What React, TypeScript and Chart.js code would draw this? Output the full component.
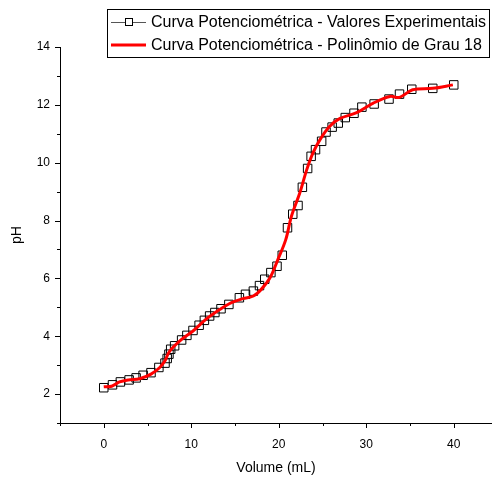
import React, { useEffect, useRef } from 'react';
import { Chart, registerables } from 'chart.js';

Chart.register(...registerables);

// Experimental titration points (Volume in mL, pH)
const expVolume = [
  0, 1.0, 1.9, 2.9, 3.7, 4.5, 5.4, 6.3, 7.0, 7.25, 7.45, 7.65, 8.1, 8.9, 9.5,
  10.2, 10.9, 11.5, 12.1, 12.7, 13.4, 14.3, 15.5, 16.2, 17.1, 17.8, 18.4,
  19.1, 19.8, 20.4, 21.0, 21.6, 22.2, 22.7, 23.3, 23.7, 24.2, 24.9, 25.4,
  26.1, 26.8, 27.6, 28.6, 29.5, 30.9, 32.6, 33.8, 35.2, 37.6, 40.0,
];
const expPH = [
  2.22, 2.32, 2.42, 2.49, 2.56, 2.65, 2.74, 2.92, 3.07, 3.23, 3.38, 3.55,
  3.67, 3.87, 4.03, 4.2, 4.38, 4.55, 4.7, 4.82, 4.95, 5.1, 5.33, 5.45, 5.56,
  5.75, 5.97, 6.2, 6.42, 6.8, 7.75, 8.22, 8.52, 9.15, 9.8, 10.22, 10.45,
  10.74, 11.06, 11.23, 11.37, 11.56, 11.71, 11.92, 12.03, 12.2, 12.37, 12.54,
  12.57, 12.69,
];

// Degree-18 polynomial fit
const fitVolume = [
  0, 0.9, 1.8, 2.8, 4.1, 5.4, 6.4, 7.0, 7.5, 8.7, 10.2, 11.7, 13.3, 14.6,
  15.9, 17.1, 18.0, 19.0, 19.9, 20.8, 21.45, 22.4, 23.2, 23.9, 24.7, 25.8,
  27.0, 28.9, 30.8, 32.7, 33.8, 35.3, 37.6, 39.9,
];
const fitPH = [
  2.25, 2.27, 2.42, 2.49, 2.53, 2.69, 2.92, 3.15, 3.47, 3.84, 4.18, 4.59,
  4.93, 5.16, 5.3, 5.39, 5.62, 6.02, 6.65, 7.34, 8.15, 8.95, 9.76, 10.33,
  10.79, 11.25, 11.53, 11.73, 12.06, 12.29, 12.26, 12.52, 12.57, 12.69,
];

const xTickValues = [-5, 0, 5, 10, 15, 20, 25, 30, 35, 40];
const yTickValues = [1, 2, 3, 4, 5, 6, 7, 8, 9, 10, 11, 12, 13, 14];
const seriesLabels = [
  'Curva Potenciométrica - Valores Experimentais',
  'Curva Potenciométrica - Polinômio de Grau 18',
];
const xTitle = 'Volume (mL)';
const yTitle = 'pH';

const FONT = '"Liberation Sans", Arial, sans-serif';

const tickMarksPlugin = {
  id: 'tickMarks',
  afterDraw(chart: any) {
    const ctx = chart.ctx;
    const xs = chart.scales.x;
    const ys = chart.scales.y;
    const area = chart.chartArea;
    ctx.save();
    ctx.strokeStyle = '#000';
    ctx.lineWidth = 1;
    ctx.beginPath();
    xTickValues.forEach((v) => {
      const px = Math.round(xs.getPixelForValue(v)) + 0.5;
      const len = v % 10 === 0 ? 5 : 3;
      ctx.moveTo(px, area.bottom);
      ctx.lineTo(px, area.bottom + len);
    });
    yTickValues.forEach((v) => {
      const py = Math.round(ys.getPixelForValue(v)) + 0.5;
      const len = v % 2 === 0 ? 5 : 3;
      ctx.moveTo(area.left, py);
      ctx.lineTo(area.left - len, py);
    });
    ctx.stroke();
    ctx.restore();
  },
};

const legendBoxPlugin = {
  id: 'legendBox',
  afterDraw(chart: any) {
    const ctx = chart.ctx;
    ctx.save();
    const left = 107.5, top = 9.5, right = 489.5, bottom = 57.5;
    ctx.fillStyle = '#fff';
    ctx.fillRect(left, top, right - left, bottom - top);
    ctx.strokeStyle = '#000';
    ctx.lineWidth = 1;
    ctx.strokeRect(left, top, right - left, bottom - top);

    const rows = [22, 45];
    // row 1: gray line with square marker
    ctx.strokeStyle = '#555';
    ctx.lineWidth = 1;
    ctx.beginPath();
    ctx.moveTo(111, rows[0] + 0.5);
    ctx.lineTo(125, rows[0] + 0.5);
    ctx.moveTo(133, rows[0] + 0.5);
    ctx.lineTo(146, rows[0] + 0.5);
    ctx.stroke();
    ctx.strokeStyle = '#000';
    ctx.strokeRect(125.5, rows[0] - 3.5, 7, 7);
    // row 2: red line
    ctx.strokeStyle = '#ff0000';
    ctx.lineWidth = 3;
    ctx.beginPath();
    ctx.moveTo(111, rows[1]);
    ctx.lineTo(146, rows[1]);
    ctx.stroke();

    ctx.fillStyle = '#000';
    ctx.font = `16px ${FONT}`;
    ctx.textBaseline = 'middle';
    ctx.textAlign = 'left';
    ctx.fillText(seriesLabels[0], 151, rows[0] + 1);
    ctx.fillText(seriesLabels[1], 151, rows[1] + 1);
    ctx.restore();
  },
};

export default function App() {
  const canvasRef = useRef<HTMLCanvasElement | null>(null);

  useEffect(() => {
    if (!canvasRef.current) return;
    const chart = new Chart(canvasRef.current, {
      type: 'scatter',
      data: {
        datasets: [
          {
            label: seriesLabels[1],
            data: fitVolume.map((x, i) => ({ x, y: fitPH[i] })),
            showLine: true,
            borderColor: '#ff0000',
            backgroundColor: '#ff0000',
            borderWidth: 3,
            pointRadius: 0,
            tension: 0.35,
            order: 0,
          },
          {
            label: seriesLabels[0],
            data: expVolume.map((x, i) => ({ x, y: expPH[i] })),
            showLine: false,
            pointStyle: 'rect',
            pointRadius: 6,
            pointBorderWidth: 1,
            pointBorderColor: '#000',
            pointBackgroundColor: 'rgba(255,255,255,0)',
            order: 1,
          },
        ],
      },
      options: {
        animation: false,
        responsive: false,
        maintainAspectRatio: false,
        layout: { autoPadding: false, padding: { top: 47, right: 0, left: 0, bottom: 0 } },
        plugins: {
          legend: { display: false },
          tooltip: { enabled: false },
        },
        scales: {
          x: {
            type: 'linear',
            min: -5,
            max: 44.37,
            afterBuildTicks: (s: any) => {
              s.ticks = xTickValues.map((value) => ({ value }));
            },
            afterFit: (s: any) => {
              s.height = 56;
              s.paddingLeft = 0;
              s.paddingRight = 0;
            },
            grid: { display: false, drawTicks: false },
            border: { display: true, color: '#000', width: 1 },
            ticks: {
              padding: 14,
              color: '#000',
              font: { family: FONT, size: 12 },
              autoSkip: false,
              maxRotation: 0,
              callback: (v: any) => (Number(v) % 10 === 0 ? String(v) : ''),
            },
            title: {
              display: true,
              text: xTitle,
              color: '#000',
              font: { family: FONT, size: 14 },
              padding: { top: 0, bottom: 2 },
            },
          },
          y: {
            type: 'linear',
            min: 1,
            max: 14,
            afterBuildTicks: (s: any) => {
              s.ticks = yTickValues.map((value) => ({ value }));
            },
            afterFit: (s: any) => {
              s.width = 60;
            },
            grid: { display: false, drawTicks: false },
            border: { display: true, color: '#000', width: 1 },
            ticks: {
              padding: 10,
              color: '#000',
              font: { family: FONT, size: 12 },
              autoSkip: false,
              callback: (v: any) => (Number(v) % 2 === 0 ? String(v) : ''),
            },
            title: {
              display: true,
              text: yTitle,
              color: '#000',
              font: { family: FONT, size: 14 },
              padding: { top: 9, bottom: 0 },
            },
          },
        },
      },
      plugins: [tickMarksPlugin, legendBoxPlugin],
    });
    return () => chart.destroy();
  }, []);

  return (
    <div style={{ position: 'fixed', left: 0, top: 0, width: 492, height: 479, background: '#fff' }}>
      <canvas ref={canvasRef} width={492} height={479} style={{ width: 492, height: 479, display: 'block' }} />
    </div>
  );
}
